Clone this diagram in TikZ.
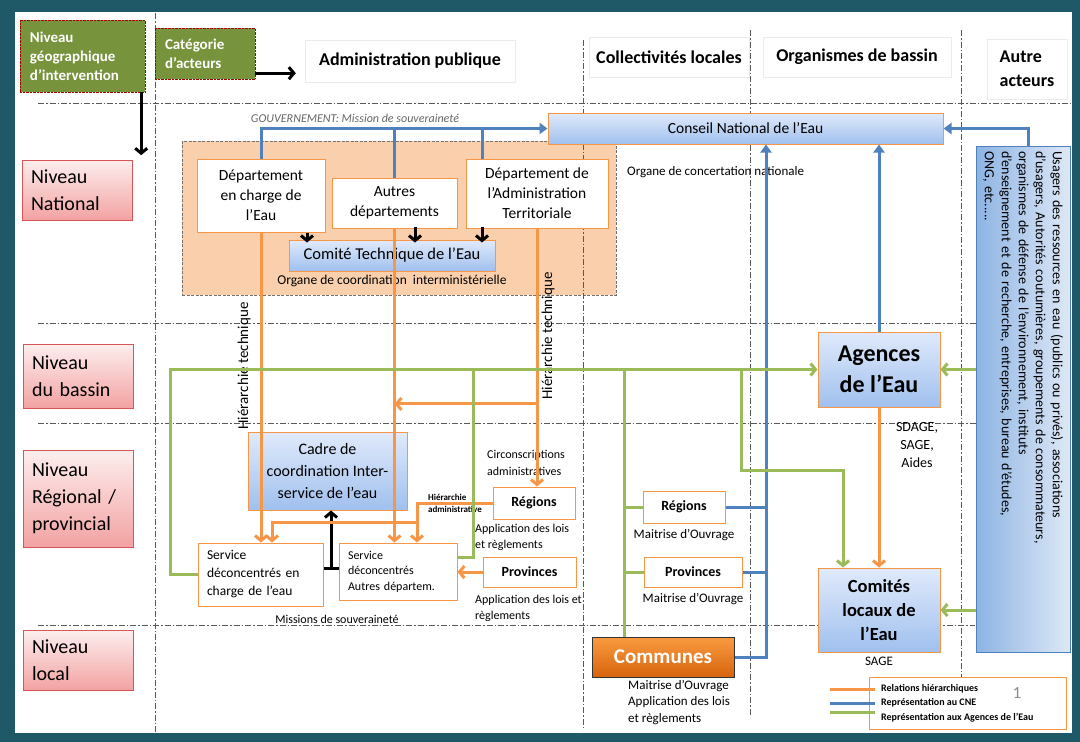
\documentclass[tikz,border=0pt]{standalone}
\usepackage{fontspec}
\setmainfont{Carlito}
\usetikzlibrary{arrows.meta,positioning,calc}

\definecolor{frameteal}{RGB}{31,89,104}
\definecolor{hdrgreen}{RGB}{119,147,60}
\definecolor{orln}{RGB}{247,150,70}
\definecolor{blln}{RGB}{79,129,189}
\definecolor{grln}{RGB}{155,187,89}
\definecolor{orbg}{RGB}{250,208,172}
\definecolor{pinktop}{RGB}{253,238,238}
\definecolor{pinkbot}{RGB}{243,162,162}
\definecolor{pinkbd}{RGB}{215,85,85}
\definecolor{bluetop}{RGB}{224,234,251}
\definecolor{bluebot}{RGB}{160,192,238}
\definecolor{usgdark}{RGB}{141,180,227}
\definecolor{usglight}{RGB}{222,232,246}
\definecolor{comtop}{RGB}{250,155,65}
\definecolor{combot}{RGB}{214,100,12}

\begin{document}
\begin{tikzpicture}[x=1pt, y=-1pt,
  font=\fontsize{12}{14}\selectfont,
  hdr/.style={draw=red!65!black, densely dotted, fill=hdrgreen, text=white, align=left, inner xsep=10pt, font=\bfseries\fontsize{15}{19}\selectfont},
  colhd/.style={draw=black!8, fill=white, font=\bfseries\fontsize{18}{24}\selectfont},
  lvl/.style={draw=pinkbd, top color=pinktop, bottom color=pinkbot, align=left, text width=92pt, inner xsep=9pt, font=\fontsize{20}{27}\selectfont},
  zone/.style={draw=black!55, dash pattern=on 3pt off 1.5pt, line width=0.8pt, fill=orbg},
  wbox/.style={draw=orln, line width=1pt, fill=white, align=center},
  bbox/.style={draw=orln, line width=1pt, top color=bluetop, bottom color=bluebot, align=center},
  combox/.style={draw=black!80, line width=1pt, top color=comtop, bottom color=combot, text=white, font=\bfseries\fontsize{21}{24}\selectfont},
  lbl/.style={inner sep=1pt, align=center, font=\fontsize{12}{14}\selectfont},
  lgtxt/.style={inner sep=1pt, font=\bfseries\fontsize{10}{11}\selectfont},
  grid/.style={draw=black!65, line width=0.7pt, dash pattern=on 6pt off 2pt on 1.5pt off 2pt},
  orl/.style={draw=orln, line width=3pt},
  bll/.style={draw=blln, line width=3pt},
  grl/.style={draw=grln, line width=3pt},
  orarr/.style={orl, -{Straight Barb[length=5pt,width=12pt]}},
  blarr/.style={bll, -{Triangle[length=8pt,width=11pt]}},
  grarr/.style={grl, -{Straight Barb[length=5pt,width=12pt]}},
  blk/.style={draw=black, line width=3pt},
  blkarr/.style={blk, -{Straight Barb[length=5pt,width=12pt]}}
]

% ---- frame ----
\useasboundingbox (0,0) rectangle (1080,742);
\fill[frameteal] (0,0) rectangle (1080,742);
\fill[white] (15,12) rectangle (1072,733);

% ---- interministerial zone (behind) ----
\node[zone, minimum width=434pt, minimum height=154pt] (interm) at (399,218) {};

% ---- grid of levels and actor columns ----
\draw[grid] (155,13) -- (155,733);
\draw[grid] (583,40) -- (583,730);
\draw[grid] (750,30) -- (750,715);
\draw[grid] (961,30) -- (961,700);
\draw[grid] (38,103) -- (1072,103);
\draw[grid] (38,323) -- (1072,323);
\draw[grid] (38,423) -- (1072,423);
\draw[grid] (38,625) -- (975,625);

% ---- headers ----
\node[hdr, text width=105pt, minimum height=72pt] (geo) at (82.5,56) {Niveau\\géographique\\d’intervention};
\node[hdr, text width=80pt, minimum height=51pt] (cat) at (205,53.5) {Catégorie\\d’acteurs};
\node[colhd, minimum width=210pt, minimum height=42pt] (hadm) at (410,61) {Administration publique};
\node[colhd, minimum width=160pt, minimum height=40pt] (hcoll) at (669,57) {Collectivités locales};
\node[colhd, minimum width=188pt, minimum height=40pt] (hbas) at (857,57) {Organismes de bassin};
\node[colhd, align=left, minimum width=80pt, minimum height=60pt] (haut) at (1027,69) {Autre\\acteurs};
\draw[blkarr, shorten >=9pt] ([yshift=6pt]cat.south east) -- ([yshift=6pt]cat.south east -| hadm.west);
\draw[blkarr] ([xshift=-4pt]geo.south east) -- ++(0,63);

% ---- levels ----
\node[lvl, minimum height=60pt] (natl) at (77,190) {Niveau\\National};
\node[lvl, minimum height=64pt] (bass) at (78,376) {Niveau\\du bassin};
\node[lvl, minimum height=97pt] (regl) at (78,498.5) {Niveau\\Régional /\\provincial};
\node[lvl, minimum height=60pt] (locl) at (78,660) {Niveau\\local};

% ---- national level ----
\node[lbl, text=black!60, font=\itshape\fontsize{12}{14}\selectfont] (gov) at (355,118) {GOUVERNEMENT: Mission de souveraineté};
\node[wbox, font=\fontsize{15.5}{20}\selectfont, minimum width=128pt, minimum height=73pt] (deau) at (261,195.5) {Département\\en charge de\\l’Eau};
\node[wbox, font=\fontsize{15.5}{20}\selectfont, minimum width=125pt, minimum height=50pt] (dautr) at (394.5,203) {Autres\\départements};
\node[wbox, font=\fontsize{15.5}{20}\selectfont, minimum width=142pt, minimum height=69pt] (dadm) at (537,193.5) {Département de\\l’Administration\\Territoriale};
\node[bbox, font=\fontsize{16.5}{18}\selectfont, minimum width=206pt, minimum height=31pt] (cte) at (392,255.5) {Comité Technique de l’Eau};
\node[lbl, font=\fontsize{13.5}{15}\selectfont, below=2pt of cte] (orgco) {Organe de coordination\ \ interministérielle};
\node[bbox, font=\fontsize{15.5}{17}\selectfont, minimum width=395pt, minimum height=31pt] (cne) at (745.5,128.5) {Conseil National de l’Eau};
\node[lbl, anchor=north west, font=\fontsize{13}{15}\selectfont] (orgcn) at (626,165) {Organe de concertation nationale};

% ---- basin actors ----
\node[bbox, font=\bfseries\fontsize{24}{31}\selectfont, minimum width=122pt, minimum height=75pt] (agn) at (879,369.5) {Agences\\de l’Eau};
\node[lbl, font=\fontsize{14}{18}\selectfont] (sdage) at (917,445) {SDAGE,\\SAGE,\\Aides};
\node[bbox, font=\bfseries\fontsize{18.5}{24}\selectfont, minimum width=122pt, minimum height=84pt] (cle) at (879,610) {Comités\\locaux de\\l’Eau};
\node[lbl, font=\fontsize{13}{15}\selectfont, below=3pt of cle] (sage) {SAGE};

% ---- other actors ----
\node[draw=blln, left color=usgdark, right color=usglight, minimum width=94pt, minimum height=506pt] (usg) at (1023,399) {};
\node[rotate=-90, text width=496pt, align=left, font=\fontsize{14}{17}\selectfont] (usgtxt) at (usg.center)
  {Usagers des ressources en eau (publics ou privés), associations\\
   d’usagers, Autorités coutumières, groupements de consommateurs,\\
   organismes de défense de l’environnement, instituts\\
   d’enseignement et de recherche, entreprises, bureau d’études,\\
   ONG, etc.....};

% ---- regional / provincial level ----
\node[bbox, font=\fontsize{16}{22}\selectfont, minimum width=159pt, minimum height=78pt] (cadre) at (327.5,471) {Cadre de\\coordination Inter-\\service de l’eau};
\node[wbox, align=left, font=\fontsize{13.5}{18}\selectfont, inner xsep=9pt, text width=107pt, minimum height=63pt] (sveau) at (260.5,574.5) {Service\\déconcentrés en\\charge de l’eau};
\node[wbox, align=left, font=\fontsize{12}{15.5}\selectfont, inner xsep=9pt, text width=100pt, minimum height=57pt] (svaut) at (398,571.5) {Service\\déconcentrés\\Autres départem.};
\node[wbox, font=\bfseries\fontsize{14}{16}\selectfont, minimum width=82pt, minimum height=32pt] (rega) at (534,503) {Régions};
\node[wbox, font=\bfseries\fontsize{14}{16}\selectfont, minimum width=93pt, minimum height=30pt] (prva) at (529.5,572) {Provinces};
\node[wbox, font=\bfseries\fontsize{14}{16}\selectfont, minimum width=82pt, minimum height=32pt] (regc) at (684,507) {Régions};
\node[wbox, font=\bfseries\fontsize{14}{16}\selectfont, minimum width=98pt, minimum height=30pt] (prvc) at (693,572) {Provinces};
\node[combox, minimum width=142pt, minimum height=40pt] (comm) at (663,657) {Communes};

% ---- free labels ----
\node[lbl, rotate=90, font=\fontsize{15}{17}\selectfont] (ht1) at (244,366) {Hiérarchie technique};
\node[lbl, rotate=90, font=\fontsize{15}{17}\selectfont] (ht2) at (548,336) {Hiérarchie technique};
\node[lbl, align=left, font=\fontsize{12}{17}\selectfont] (circ) at (526,463) {Circonscriptions\\administratives};
\node[lbl, align=left, anchor=north west, font=\fontsize{12}{16}\selectfont] (appreg) at (474,523) {Application des lois\\et règlements};
\node[lbl, align=left, anchor=north west, font=\fontsize{12}{16}\selectfont] (appprv) at (474,594) {Application des lois et\\règlements};
\node[lbl, align=left, font=\bfseries\fontsize{9}{12}\selectfont] (hadml) at (455,503) {Hiérarchie\\administrative};
\node[lbl] (miss) at (337,619) {Missions de souveraineté};
\node[lbl, font=\fontsize{13}{15}\selectfont, below=5pt of regc] (mo1) {Maitrise d’Ouvrage};
\node[lbl, font=\fontsize{13}{15}\selectfont, below=5pt of prvc] (mo2) {Maitrise d’Ouvrage};
\node[lbl, align=left, anchor=north west, font=\fontsize{13}{16.5}\selectfont] (mo3) at (627,679) {Maitrise d’Ouvrage\\Application des lois\\et règlements};

% ---- blue: representation au CNE ----
\draw[blarr] (deau.north) |- (cne.west);
\draw[bll] (dautr.north) -- (dautr.north |- cne.west);
\draw[bll] ([xshift=-55pt]dadm.north) -- ([xshift=-55pt]dadm.north |- cne.west);
\coordinate (bup) at ([xshift=20.5pt]cne.south);
\draw[blarr] (comm.east) -| (bup);
\draw[bll] (regc.east) -- (regc.east -| bup);
\draw[bll] (prvc.east) -- (prvc.east -| bup);
\draw[blarr] (agn.north) -- (agn.north |- cne.south);
\draw[blarr] ([xshift=5pt]usg.north) |- (cne.east);

% ---- black ----
\draw[blkarr] ([xshift=46pt]deau.south) -- ([xshift=46pt,yshift=-3pt]deau.south |- cte.north);
\draw[blkarr] ([xshift=20.5pt,yshift=2pt]dautr.south) -- ([xshift=20.5pt,yshift=-3pt]dautr.south |- cte.north);
\draw[blkarr] ([xshift=-55pt,yshift=2pt]dadm.south) -- ([xshift=-55pt,yshift=-3pt]dadm.south |- cte.north);
\coordinate (tb) at ($(sveau.east)!.5!(svaut.west)$);
\draw[blk] ([yshift=6pt]sveau.east) -- ([yshift=6pt]sveau.east -| svaut.west);
\draw[blkarr] ([yshift=6pt]tb) -- (tb |- cadre.south);

% ---- orange: relations hierarchiques ----
\draw[orarr] (deau.south) -- (deau.south |- sveau.north);
\draw[orarr] (dautr.south) -- (dautr.south |- svaut.north);
\draw[orarr] (dadm.south) -- (dadm.south |- rega.north);
\coordinate (ojn) at ($(dadm.south)!0.68!(dadm.south |- rega.north)$);
\draw[orarr] (ojn) -- (ojn -| dautr.south);
\draw[orarr] (rega.west) -| ([xshift=19pt]svaut.north);
\coordinate (ojs) at ([xshift=19pt,yshift=20pt]svaut.north);
\draw[orarr] (ojs) -| ([xshift=11.5pt]sveau.north);
\draw[orarr] (prva.west) -- (prva.west -| svaut.east);
\draw[orarr] (agn.south) -- (cle.north);

% ---- green: representation aux Agences ----
\draw[grarr] (sveau.west) -- ++(-27,0) |- (agn.west);
\draw[grl] ([yshift=14pt]svaut.east) -- ++(16,0) coordinate (g1) -- (g1 |- agn.west);
\coordinate (gc) at ([xshift=-39pt]comm.north);
\draw[grl] (gc) -- (gc |- agn.west);
\draw[grl] (regc.west) -- (regc.west -| gc);
\draw[grl] (prvc.west) -- (prvc.west -| gc);
\coordinate (gk0) at ($(agn.west)!0.42!(cle.west)$);
\coordinate (gk) at ([xshift=-76pt]gk0);
\draw[grarr] (gk |- agn.west) -- (gk) -| ([xshift=-36pt]cle.north);
\draw[grarr] (usg.west |- agn.east) -- (agn.east);
\draw[grarr] (usg.west |- cle.east) -- (cle.east);

% ---- legend ----
\node[draw=orln, line width=0.8pt, fill=white, minimum width=197pt, minimum height=52pt] (leg) at (967.5,703) {};
\node[lgtxt, anchor=west] (lg1) at (880,689) {Relations hiérarchiques};
\node[lgtxt, anchor=west] (lg2) at (880,703) {Représentation au CNE};
\node[lgtxt, anchor=west] (lg3) at (880,718) {Représentation aux Agences de l’Eau};
\node[text=black!45, font=\fontsize{17}{20}\selectfont] (pgnum) at (1017,693) {1};
\draw[orl] ([xshift=-50pt]lg1.west) -- ([xshift=-5pt]lg1.west);
\draw[bll] ([xshift=-50pt]lg2.west) -- ([xshift=-5pt]lg2.west);
\draw[grl] ([xshift=-50pt,yshift=6pt]lg3.west) -- ([xshift=-5pt,yshift=6pt]lg3.west);

\end{tikzpicture}
\end{document}
